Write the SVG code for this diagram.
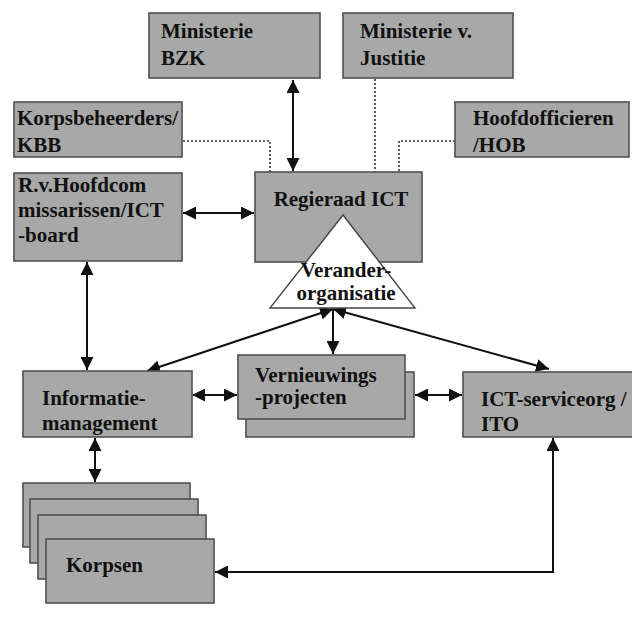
<svg xmlns="http://www.w3.org/2000/svg" width="632" height="618" viewBox="0 0 632 618">
  <style>
    .box { fill: #a8a8a8; stroke: #505050; stroke-width: 1.6; }
    .tri { fill: #ffffff; stroke: #444444; stroke-width: 1.4; }
    .t { font-family: "Liberation Serif", "Times New Roman", serif; font-weight: bold; font-size: 21px; fill: #111111; }
    .line { fill: none; stroke: #111111; stroke-width: 2; }
    .dot { fill: none; stroke: #333333; stroke-width: 1.6; stroke-dasharray: 2 2; }
  </style>
  <defs>
    <marker id="ah" viewBox="0 0 10 10" refX="10" refY="5" markerWidth="6.5" markerHeight="6.5" markerUnits="strokeWidth" orient="auto-start-reverse">
      <path d="M0,0 L10,5 L0,10 Z" fill="#111111"/>
    </marker>
  </defs>
  <rect width="632" height="618" fill="#ffffff"/>

  <g id="connectors">
    <line class="line" x1="293" y1="80" x2="293" y2="171" marker-start="url(#ah)" marker-end="url(#ah)"/>
    <polyline class="dot" points="375,79 375,172"/>
    <polyline class="dot" points="183,141 270,141 270,172"/>
    <polyline class="dot" points="455,141 399,141 399,172"/>
    <line class="line" x1="183" y1="213" x2="254" y2="213" marker-start="url(#ah)" marker-end="url(#ah)"/>
    <line class="line" x1="87" y1="262" x2="87" y2="370" marker-start="url(#ah)" marker-end="url(#ah)"/>
    <line class="line" x1="333" y1="309" x2="147" y2="371" marker-start="url(#ah)" marker-end="url(#ah)"/>
    <line class="line" x1="333" y1="309" x2="333" y2="354" marker-end="url(#ah)"/>
    <line class="line" x1="333" y1="309" x2="549" y2="369" marker-start="url(#ah)" marker-end="url(#ah)"/>
    <line class="line" x1="192" y1="395" x2="237" y2="395" marker-start="url(#ah)" marker-end="url(#ah)"/>
    <line class="line" x1="415" y1="395" x2="462" y2="395" marker-start="url(#ah)" marker-end="url(#ah)"/>
    <line class="line" x1="95" y1="438" x2="95" y2="482" marker-start="url(#ah)" marker-end="url(#ah)"/>
    <polyline class="line" points="553,438 553,572 215,572" marker-start="url(#ah)" marker-end="url(#ah)"/>
  </g>

  <g id="ministerie-bzk">
    <rect class="box" x="149" y="13" width="171" height="65"/>
    <text class="t" x="161" y="38">Ministerie</text>
    <text class="t" x="161" y="65">BZK</text>
  </g>
  <g id="ministerie-justitie">
    <rect class="box" x="343" y="13" width="170" height="65"/>
    <text class="t" x="360" y="38">Ministerie v.</text>
    <text class="t" x="360" y="65">Justitie</text>
  </g>
  <g id="korpsbeheerders">
    <rect class="box" x="14" y="102" width="168" height="55"/>
    <text class="t" x="17" y="125">Korpsbeheerders/</text>
    <text class="t" x="17" y="152">KBB</text>
  </g>
  <g id="hoofdofficieren">
    <rect class="box" x="455" y="102" width="174" height="55"/>
    <text class="t" x="473" y="125">Hoofdofficieren</text>
    <text class="t" x="473" y="152">/HOB</text>
  </g>
  <g id="raad-hoofdcommissarissen">
    <rect class="box" x="14" y="173" width="168" height="88"/>
    <text class="t" x="18" y="192">R.v.Hoofdcom</text>
    <text class="t" x="18" y="217">missarissen/ICT</text>
    <text class="t" x="18" y="242">-board</text>
  </g>
  <g id="regieraad">
    <rect class="box" x="255" y="172" width="167" height="90"/>
    <text class="t" x="341" y="206" text-anchor="middle">Regieraad ICT</text>
  </g>
  <g id="veranderorganisatie">
    <polygon class="tri" points="343,215 270,308 415,308"/>
    <text class="t" x="346" y="277" text-anchor="middle">Verander-</text>
    <text class="t" x="346" y="300" text-anchor="middle">organisatie</text>
  </g>
  <g id="informatiemanagement">
    <rect class="box" x="23" y="371" width="169" height="66"/>
    <text class="t" x="42" y="405">Informatie-</text>
    <text class="t" x="42" y="430">management</text>
  </g>
  <g id="vernieuwingsprojecten">
    <rect class="box" x="246" y="372" width="168" height="65"/>
    <rect class="box" x="238" y="355" width="167" height="64"/>
    <text class="t" x="255" y="382">Vernieuwings</text>
    <text class="t" x="255" y="404">-projecten</text>
  </g>
  <g id="ict-serviceorg">
    <rect class="box" x="463" y="372" width="175" height="65"/>
    <text class="t" x="481" y="406">ICT-serviceorg /</text>
    <text class="t" x="481" y="431">ITO</text>
  </g>
  <g id="korpsen">
    <rect class="box" x="23" y="483" width="167" height="64"/>
    <rect class="box" x="30" y="499" width="168" height="64"/>
    <rect class="box" x="38" y="515" width="168" height="64"/>
    <rect class="box" x="46" y="539" width="168" height="64"/>
    <text class="t" x="66" y="572">Korpsen</text>
  </g>
</svg>
